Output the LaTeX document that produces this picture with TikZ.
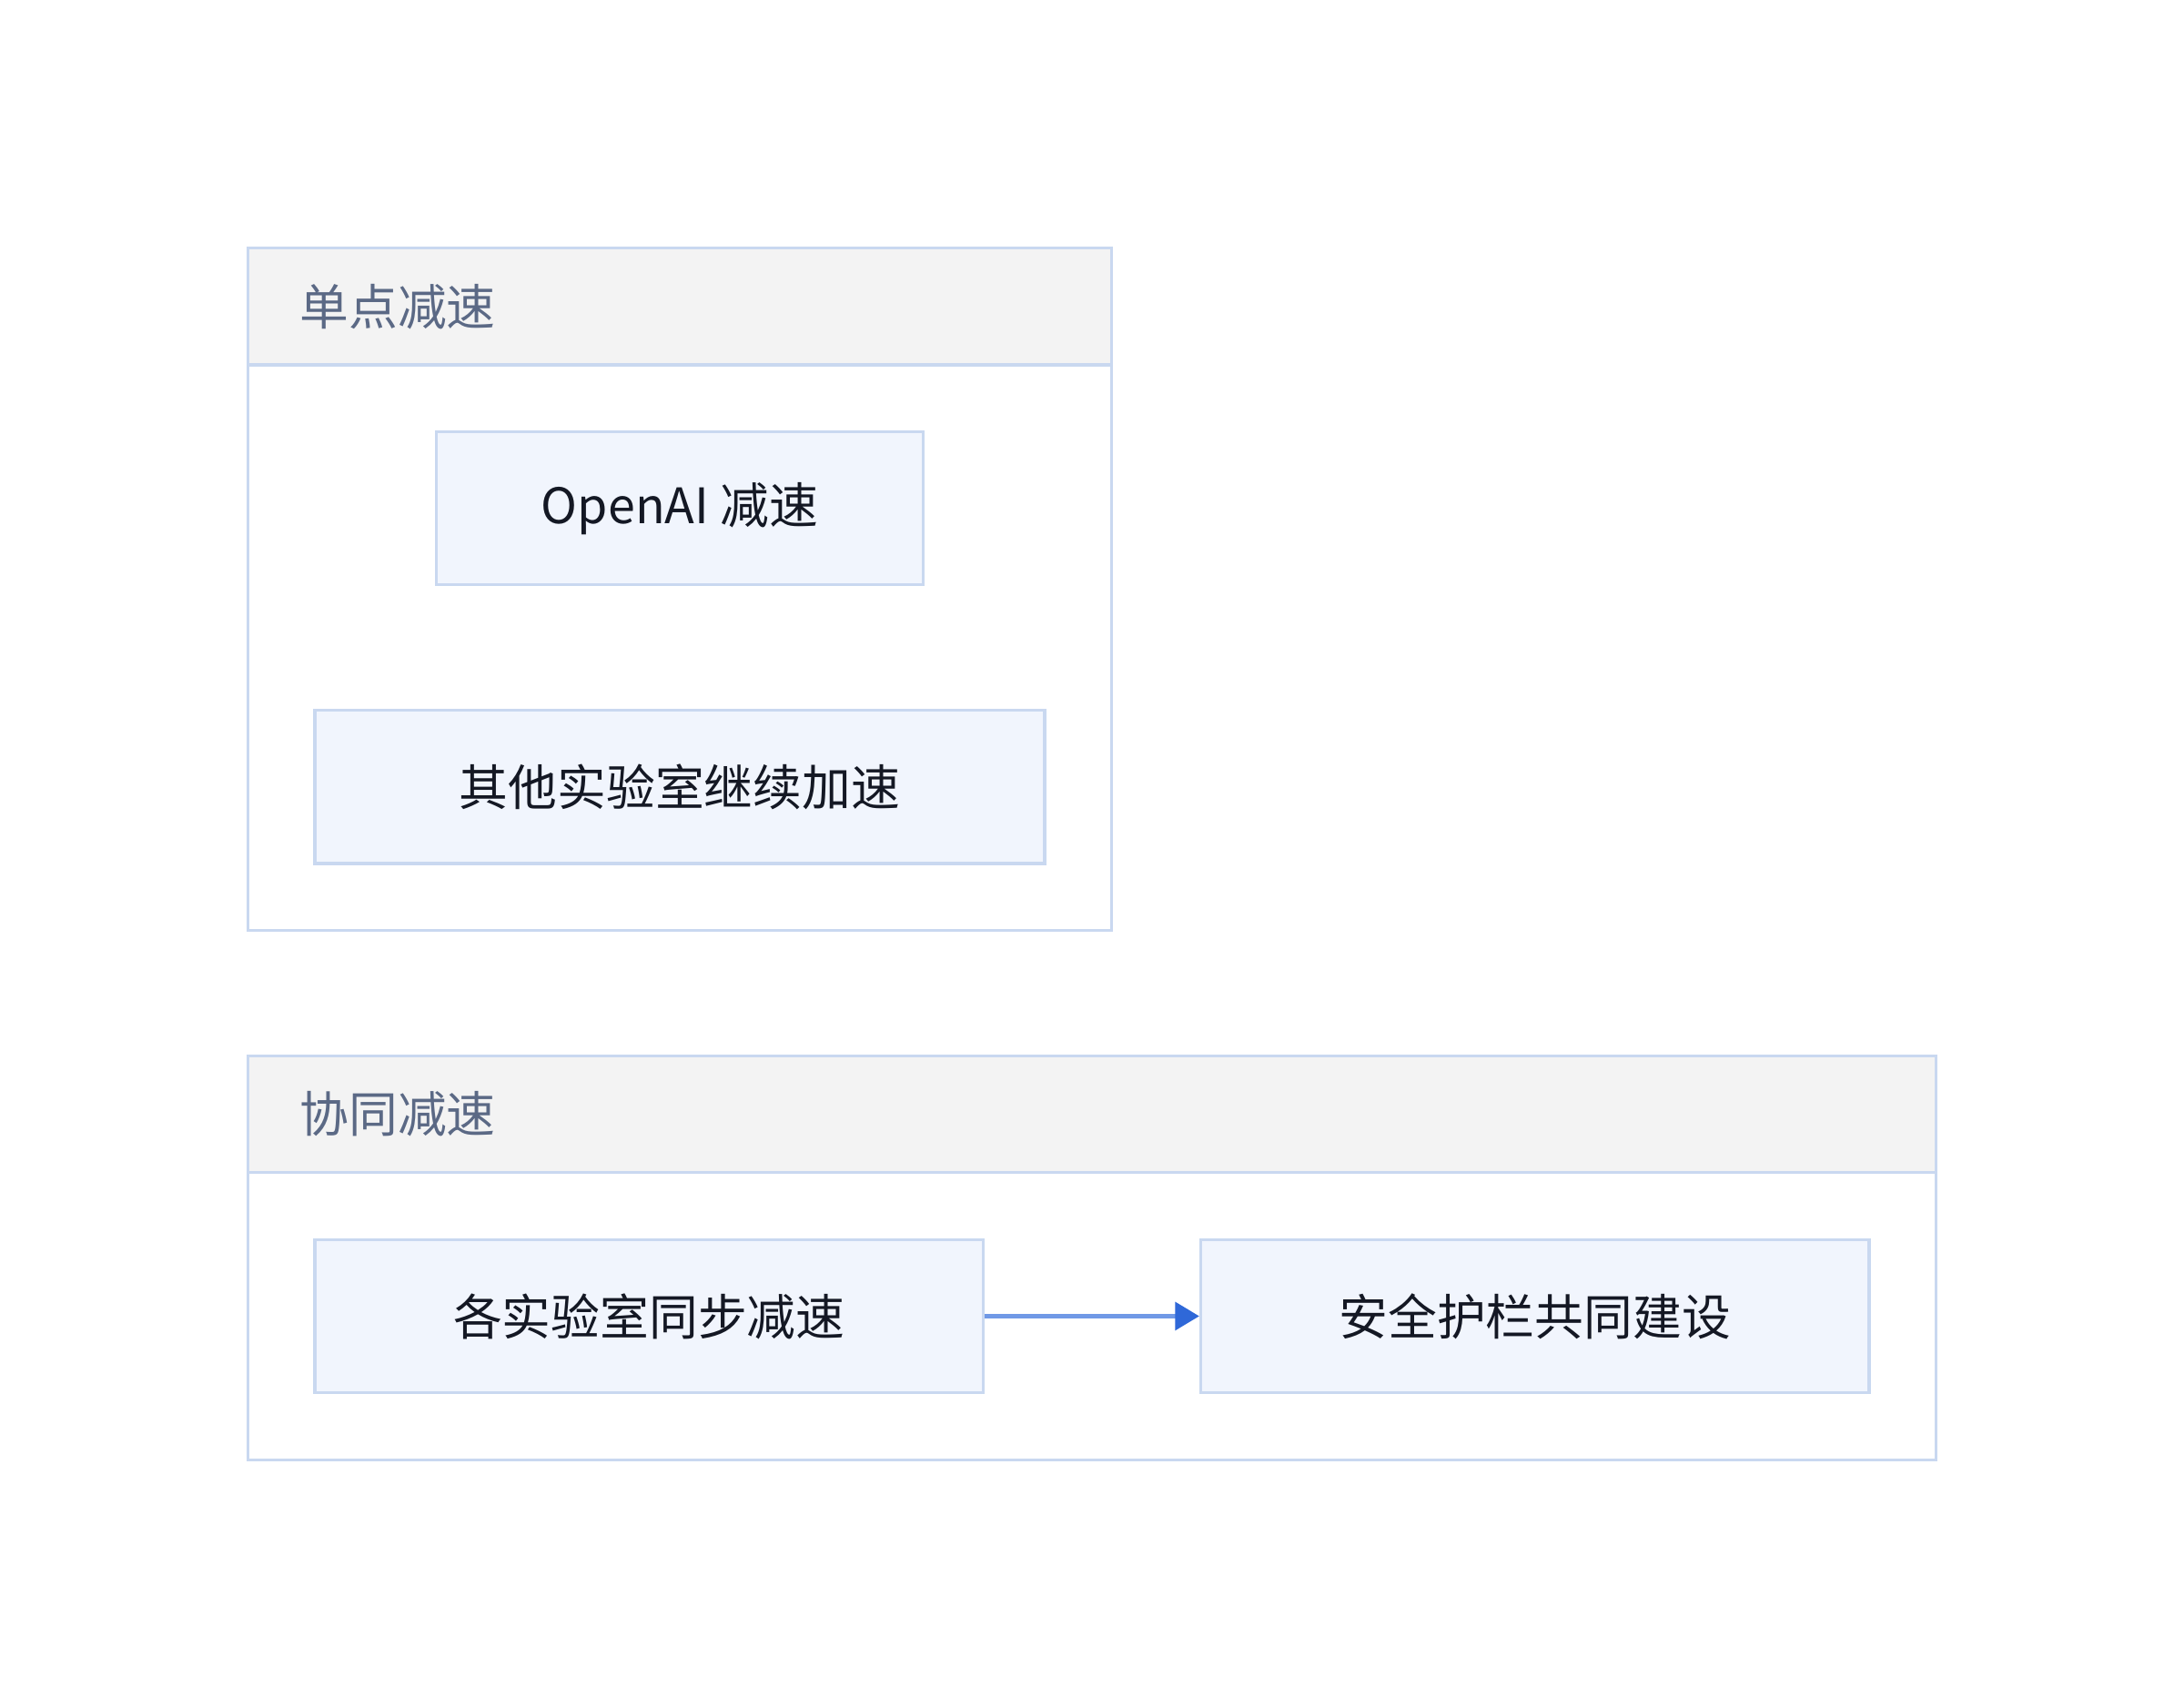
\documentclass[tikz,border=0pt]{standalone}
\usepackage{fontspec}
\setmainfont{Noto Sans CJK SC}
\usetikzlibrary{positioning}
\usetikzlibrary{arrows.meta}
\definecolor{boxline}{HTML}{C9D8F0}
\definecolor{boxfill}{HTML}{F1F5FD}
\definecolor{headfill}{HTML}{F3F3F3}
\definecolor{headtext}{HTML}{5B6985}
\definecolor{nodetext}{HTML}{141824}
\definecolor{arrline}{HTML}{7099E6}
\definecolor{arrtip}{HTML}{2F68D8}
\tikzset{
  stepbox/.style={draw=boxline,line width=1.2pt,fill=boxfill,text=nodetext,font=\fontsize{20}{24}\selectfont,inner sep=0pt},
  group/.style={draw=boxline,line width=1.2pt,fill=white},
  head/.style={draw=boxline,line width=1.2pt,fill=headfill},
  title/.style={text=headtext,font=\fontsize{20}{24}\selectfont,anchor=west,inner sep=0pt}
}
\begin{document}
\begin{tikzpicture}[x=0.02cm,y=-0.02cm]

            \useasboundingbox (0,0) rectangle (1568,1225);

            % group 1
            \draw[group] (178,178) rectangle (798,668);
            \draw[head] (178,178) rectangle (798,262);
            \node (t1) [title] at (215,220) {单点减速};

            \node (a) [stepbox,minimum width=7cm,minimum height=2.2cm] at (488,365) {OpenAI 减速};
            \node (b) [stepbox,minimum width=10.48cm,minimum height=2.2cm] at (488,565) {其他实验室继续加速};

            % group 2
            \draw[group] (178,758) rectangle (1390,1048);
            \draw[head] (178,758) rectangle (1390,842);
            \node (t2) [title] at (215,800) {协同减速};

            \node (c) [stepbox,minimum width=9.6cm,minimum height=2.2cm] at (466,945) {各实验室同步减速};
            \node (d) [stepbox,minimum width=9.6cm,minimum height=2.2cm] at (1102,945) {安全护栏共同建设};

            \draw[arrline,line width=1.6pt,arrows = -{Triangle[angle=60:4mm,color=arrtip]}] (c) -- (d);

\end{tikzpicture}
\end{document}
